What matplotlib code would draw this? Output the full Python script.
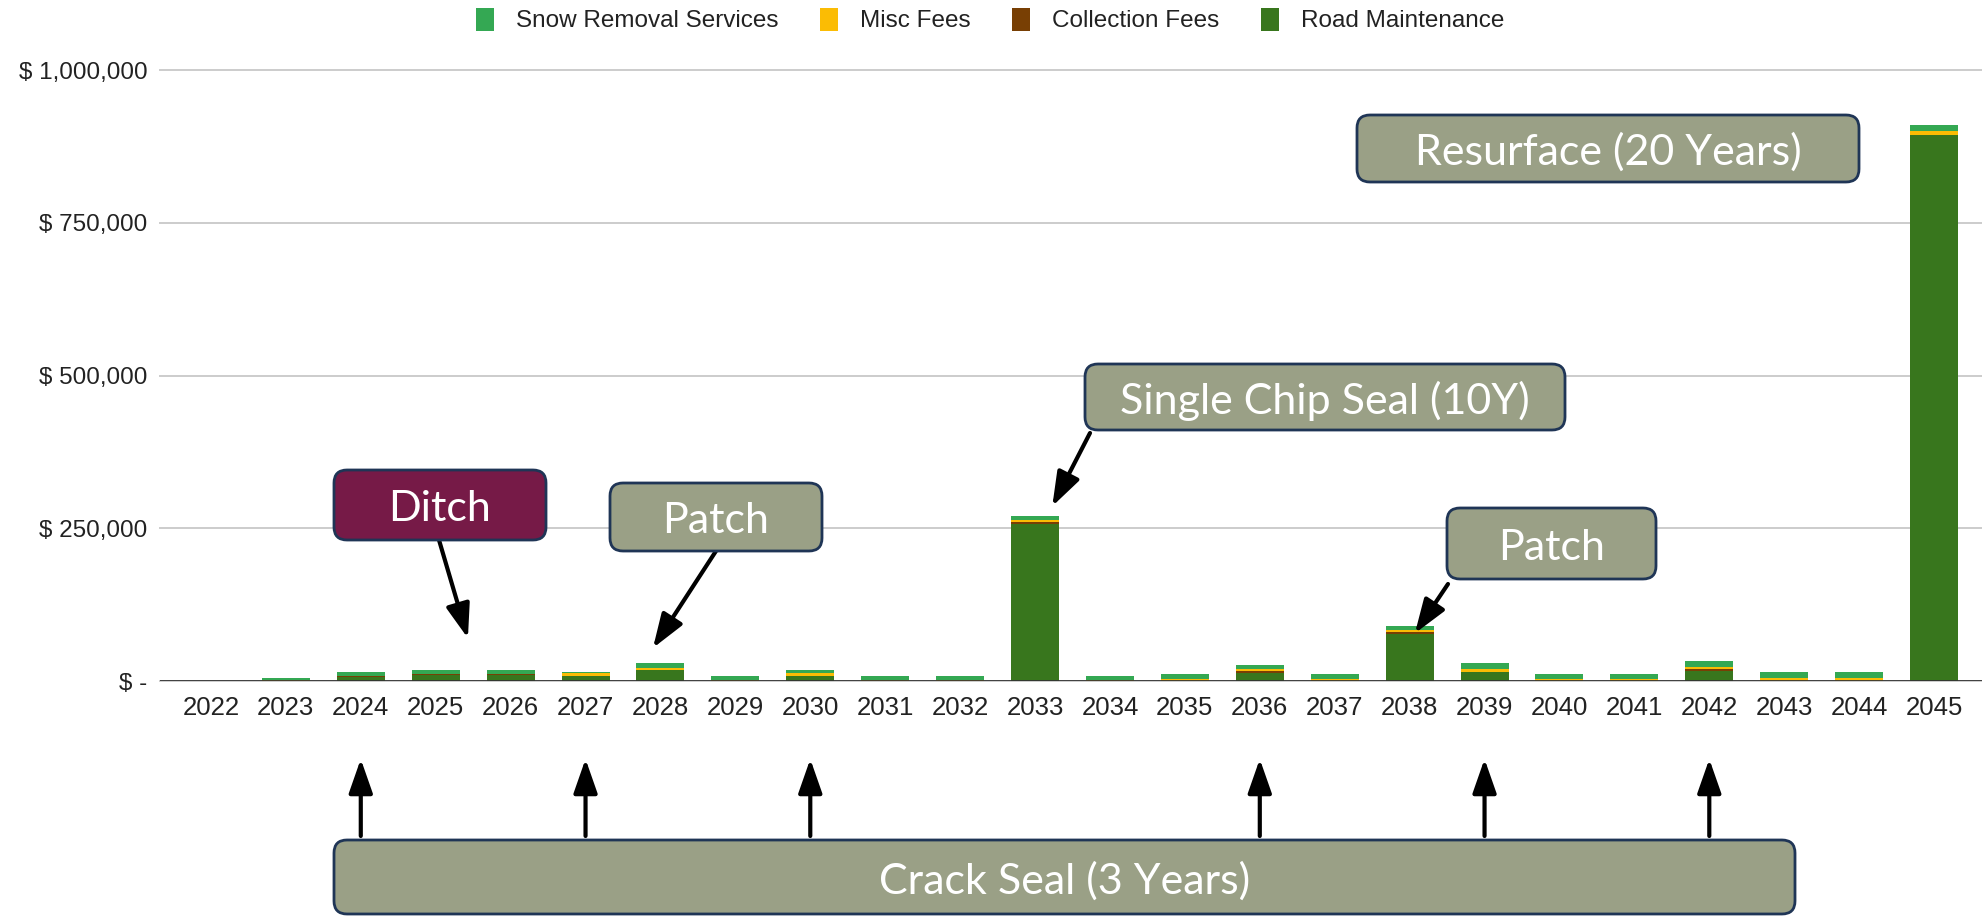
import numpy as np
import matplotlib
matplotlib.use("Agg")
import matplotlib.pyplot as plt
import matplotlib.transforms as mtransforms
from matplotlib.patches import FancyBboxPatch, Patch
from matplotlib.ticker import FuncFormatter

# ── data ──────────────────────────────────────────────────
years = [str(y) for y in range(2022, 2046)]

road_maintenance = [0, 0, 6000, 10400, 10400, 8700, 18500, 0, 8700, 0, 0, 257000,
                    0, 0, 12600, 0, 76500, 15300, 0, 0, 16900, 0, 0, 893000]
collection_fees  = [0, 0, 2800, 1600, 1600, 0, 0, 0, 0, 0, 0, 3300,
                    0, 0, 3800, 0, 3800, 0, 0, 0, 3300, 0, 0, 0]
misc_fees        = [0, 2000, 0, 0, 0, 3800, 3300, 2000, 3800, 2000, 2000, 3300,
                    2200, 2500, 2700, 2500, 3300, 3800, 2500, 2500, 2200, 5500, 5500, 7100]
snow_removal     = [0, 3000, 6500, 6500, 6500, 2700, 7000, 6200, 6000, 6200, 6200, 6500,
                    6000, 9500, 6500, 9500, 6500, 9800, 9000, 9000, 9800, 9800, 9800, 9800]

series_names  = ["Road Maintenance", "Collection Fees", "Misc Fees", "Snow Removal Services"]
series_colors = ["#38761D", "#783F04", "#FBBC04", "#34A853"]

# crack seal years
crack_seal_years = ["2024", "2027", "2030", "2036", "2039", "2042"]

W, H = 1982, 917
plt.rcParams['font.family'] = ['Liberation Sans', 'DejaVu Sans']

fig = plt.figure(figsize=(W / 100, H / 100), dpi=100)
ax = fig.add_axes([160 / W, 236 / H, 1 - 160 / W, (847 - 236) / H])

# ── stacked bars ──────────────────────────────────────────
x = np.arange(len(years))
bottom = np.zeros(len(years))
for vals, name, col in zip([road_maintenance, collection_fees, misc_fees, snow_removal],
                           series_names, series_colors):
    ax.bar(x, vals, width=0.64, bottom=bottom, color=col, label=name, zorder=3)
    bottom += np.array(vals)

ax.set_xlim(-0.68, len(years) - 1 + 0.64)
ax.set_ylim(0, 1_000_000)
ax.set_yticks([0, 250_000, 500_000, 750_000, 1_000_000])
ax.yaxis.set_major_formatter(FuncFormatter(lambda v, p: "$ -" if v == 0 else f"$ {v:,.0f}"))
ax.set_xticks(x)
ax.set_xticklabels(years)
ax.tick_params(axis='both', length=0, colors='#222222')
ax.tick_params(axis='x', pad=11, labelsize=18.5)
ax.tick_params(axis='y', pad=9, labelsize=17.5)
for s in ax.spines.values():
    s.set_visible(False)
ax.grid(axis='y', color='#cccccc', lw=1.4, zorder=0)
ax.set_axisbelow(True)
ax.axhline(0, color='#333333', lw=2, zorder=4)
for gl in ax.get_ygridlines():
    gl.set_clip_on(False)

# ── legend ───────────────────────────────────────────────
order = [3, 2, 1, 0]
handles = [Patch(facecolor=series_colors[i], edgecolor='none') for i in order]
labels = [series_names[i] for i in order]
fig.legend(handles, labels, loc='center', bbox_to_anchor=(990 / W, 1 - 20 / H), ncol=4,
           frameon=False, fontsize=17.5, handlelength=0.75, handleheight=1.1,
           handletextpad=0.9, columnspacing=1.7, labelcolor='#222222')

# ── callout boxes (pixel positions, top-left origin) ─────
inch = fig.dpi_scale_trans
BOX_FC = "#9AA086"
BOX_EC = "#1F3556"


def px(xp, yp):
    return xp / 100, (H - yp) / 100


def callout(x0, y0, x1, y1, text, fc=BOX_FC, size=31):
    bx, by = px(x0, y1)
    p = FancyBboxPatch((bx, by), (x1 - x0) / 100, (y1 - y0) / 100,
                       boxstyle="round,pad=0,rounding_size=0.13",
                       transform=inch, facecolor=fc, edgecolor=BOX_EC, lw=2,
                       clip_on=False, zorder=10)
    fig.add_artist(p)
    cx, cy = px((x0 + x1) / 2, (y0 + y1) / 2 + 4)
    fig.text(cx, cy, text, transform=inch, ha='center', va='center', color='white',
             fontsize=size, family=['Lato', 'DejaVu Sans'], fontweight='normal', zorder=11)


ARROW = dict(arrowstyle='-|>,head_length=0.4,head_width=0.14', mutation_scale=52,
             lw=3, color='black', shrinkA=0, shrinkB=0)


def pointer(tail, tip_data):
    ax.annotate('', xy=tip_data, xycoords='data', xytext=px(*tail), textcoords=inch,
                arrowprops=ARROW, annotation_clip=False, zorder=12)


callout(334, 470, 546, 540, "Ditch", fc="#761A47")
pointer((439, 540), (3.43, 70000))

callout(610, 483, 822, 551, "Patch")
pointer((716, 551), (5.9, 54000))

callout(1085, 364, 1565, 430, "Single Chip Seal (10Y)")
pointer((1090, 433), (11.23, 286000))

callout(1447, 508, 1656, 579, "Patch")
pointer((1448, 584), (16.07, 78000))

callout(1357, 115, 1859, 182, "Resurface (20 Years)")

callout(334, 840, 1795, 914, "Crack Seal (3 Years)")

# up arrows from crack seal box to the years
up_trans = mtransforms.blended_transform_factory(ax.transData, inch)
for yr in crack_seal_years:
    i = years.index(yr)
    ax.annotate('', xy=(i, (H - 759) / 100), xycoords=up_trans,
                xytext=(i, (H - 836) / 100), textcoords=up_trans,
                arrowprops=ARROW, annotation_clip=False)

fig.savefig("out.png", dpi=100, facecolor='white')
